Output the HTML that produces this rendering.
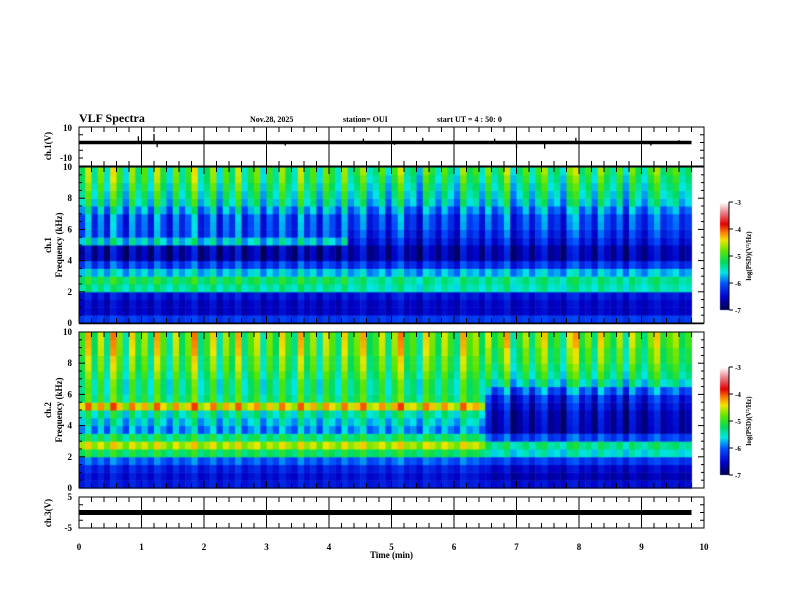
<!DOCTYPE html>
<html><head><meta charset="utf-8"><style>
body{margin:0;background:#fff;}
#wrap{position:relative;width:792px;height:612px;overflow:hidden;background:#fff;}
canvas,svg{position:absolute;left:0;top:0;}
text{font-family:"Liberation Serif",serif;font-weight:bold;fill:#000;}
</style></head><body>
<div id="wrap">
<canvas id="cv" width="792" height="612"></canvas>
<svg id="sv" width="792" height="612"></svg>
</div>
<script>
// ---- data ----
const timeEnd = 9.8; // minutes of data
// burst intensity per 0.1-min column (98 columns)
const bursts = [0.6,1.2,0.4,1.0,0.3,1.3,0.8,0.2,1.1,0.5,0.9,0.3,1.2,0.7,0.2,1.0,0.4,0.8,1.3,0.3,
0.6,1.1,0.2,0.9,0.5,1.2,0.3,0.7,1.0,0.2,0.8,0.4,1.1,0.6,0.3,1.2,0.5,0.9,0.2,1.0,
0.7,0.3,1.1,0.5,0.8,1.2,0.4,0.6,1.0,0.3,0.9,1.3,0.5,0.7,0.2,1.1,0.8,0.4,1.0,0.6,
0.3,1.2,0.7,0.9,0.4,1.1,0.5,0.8,1.3,0.3,0.6,1.0,0.4,0.9,1.2,0.5,0.7,0.3,1.1,1.3,
0.6,0.9,0.4,1.2,0.8,0.5,1.0,0.3,1.1,0.7,0.4,0.9,1.2,0.6,0.8,1.0,0.5,0.7];
// base log PSD per 0.5 kHz row (0-0.5 ... 9.5-10 kHz)
const ch1Before = [-6.2,-6.6,-6.6,-6.5,-5.5,-5.3,-5.8,-6.3,-6.8,-6.8,-5.8,-6.3,-6.3,-6.3,-6.0,-5.7,-5.6,-5.5,-5.4,-5.4];
const ch1After  = [-6.2,-6.6,-6.6,-6.5,-5.6,-5.5,-5.9,-6.4,-6.8,-6.8,-6.6,-6.5,-6.4,-6.4,-6.2,-5.9,-5.8,-5.7,-5.6,-5.5];
const ch1Change = 4.3;
const ch2Before = [-6.4,-6.5,-6.4,-6.1,-5.3,-4.7,-5.4,-6.0,-5.8,-5.6,-4.6,-5.4,-5.5,-5.5,-5.4,-5.3,-5.3,-5.2,-5.2,-5.2];
const ch2After  = [-6.5,-6.7,-6.6,-6.3,-5.7,-5.5,-6.3,-6.8,-6.8,-6.8,-6.7,-6.6,-6.3,-5.8,-5.6,-5.5,-5.4,-5.4,-5.3,-5.3];
const ch2Change = 6.45;
// ch1 waveform spikes [minute, volts]
const spikes1 = [[0.95,4],[1.2,5.5],[1.25,-3],[3.3,-2],[4.55,2.5],[5.05,-1.5],[5.5,3],[6.65,2.5],[7.0,-4],[7.45,-4],[7.95,3],[9.15,-2],[9.6,1.5]];
const ch3Value = 0;
const cbTicks = [-3,-4,-5,-6,-7];

// ---- geometry ----
const X0=79, X1=704;
const xs = t => X0 + t*(X1-X0)/10;
const P1={top:167,bot:323}, P2={top:332,bot:488};
const W1={top:127,bot:158}, W3={top:497,bot:528};

function jet(v){ // v in [-7,-3]
  const s=Math.max(0,Math.min(1,(v+7)/4));
  const stops=[[0,[0,0,70]],[0.12,[0,0,200]],[0.25,[0,80,255]],[0.35,[0,230,230]],[0.45,[0,220,90]],[0.55,[90,230,0]],[0.65,[240,230,0]],[0.72,[255,130,0]],[0.8,[230,0,0]],[0.9,[230,120,130]],[1,[255,255,255]]];
  for(let i=1;i<stops.length;i++){ if(s<=stops[i][0]){const a=stops[i-1],b=stops[i];const f=(s-a[0])/(b[0]-a[0]);
    return `rgb(${a[1].map((c,k)=>Math.round(c+(b[1][k]-c)*f)).join(',')})`;}}
  return 'rgb(255,255,255)';
}
const cv=document.getElementById('cv'),ctx=cv.getContext('2d');
function drawSpec(P,before,after,change,gain){
  const rows=before.length, rh=(P.bot-P.top)/rows;
  bursts.forEach((b,i)=>{
    const t=i*0.1, x=xs(t), w=xs(t+0.1)-x+0.5;
    const prof = t<change?before:after;
    for(let r=0;r<rows;r++){
      const wgt = 0.15 + 0.85*(r/rows);
      const v = prof[r] + (b-0.4)*gain*wgt;
      ctx.fillStyle=jet(v);
      ctx.fillRect(x, P.bot-(r+1)*rh, w, rh+0.5);
    }
  });
}
drawSpec(P1,ch1Before,ch1After,ch1Change,1.2);
drawSpec(P2,ch2Before,ch2After,ch2Change,1.3);
// colorbars
[[202,310],[367,475]].forEach(([a,b])=>{
  for(let y=a;y<b;y++){ctx.fillStyle=jet(-3-4*(y-a)/(b-a));ctx.fillRect(720,y,9,1);}
});

// ---- SVG axes ----
const sv=document.getElementById('sv'), NS='http://www.w3.org/2000/svg';
function el(tag,attrs,txt){const e=document.createElementNS(NS,tag);for(const k in attrs)e.setAttribute(k,attrs[k]);if(txt!==undefined)e.textContent=txt;sv.appendChild(e);return e;}
function line(x1,y1,x2,y2,w){return el('line',{x1,y1,x2,y2,stroke:'#000','stroke-width':w||1});}
function txt(x,y,s,size,anchor,rot,name){const a={x,y,'font-size':size,'text-anchor':anchor||'start'};if(rot)a.transform=`rotate(-90 ${x} ${y})`;const e=el('text',a,s);return e;}

[[127,166],[167,323],[332,488],[497,528]].forEach(([a,b],i)=>{
  const r=el('rect',{x:X0,y:a,width:X1-X0,height:b-a,fill:'none',stroke:'#000','stroke-width':1});
  
});
line(X0,166.5,X1,166.5,1.5);line(X0,323.5,X1,323.5,1.5);
for(let m=1;m<10;m++){line(xs(m),127,xs(m),166,1);line(xs(m),497,xs(m),528,1);}
[[127,1],[166,-1],[167,1],[323,-1],[332,1],[488,-1],[497,1],[528,-1]].forEach(([y,d])=>{
  for(let k=0;k<=50;k++){const len=(k%5===0)?7:5;line(xs(k/5),y,xs(k/5),y+d*len,1);}
});
[P1,P2].forEach(P=>{for(let f=0;f<=10;f+=0.5){const y=P.bot-(P.bot-P.top)*f/10;const len=(f%2===0)?6:3;line(X0,y,X0+len,y);line(X1,y,X1-len,y);}});
[[W1.top,W1.bot],[W3.top,W3.bot]].forEach(([a,b])=>{for(let k=0;k<=4;k++){const y=a+(b-a)*k/4;line(X0,y,X0+4,y);line(X1,y,X1-4,y);}});
[[202,310],[367,475]].forEach(([a,b],j)=>{
  line(729,a,729,b);
  cbTicks.forEach((v,i)=>{const y=a+(b-a)*i/4;line(729,y,733,y);txt(735,y+3,String(v),7,'start',false,'colorbar-tick-'+j+'-'+i);});
  txt(751,(a+b)/2,'log(PSD)(V\u00b2/Hz)',7,'middle',true,'colorbar-title-'+(j+1));
});

const yW1=v=>W1.top+(10-v)/20*(W1.bot-W1.top);
let pts=[];const N=400;
for(let i=0;i<=N;i++){const t=timeEnd*i/N;pts.push(`${xs(t).toFixed(1)},${yW1(0).toFixed(1)}`);}
const wl=el('polyline',{points:pts.join(' '),fill:'none',stroke:'#000','stroke-width':3.5});

spikes1.forEach(([t,v],i)=>{const s=line(xs(t),yW1(0),xs(t),yW1(v),1.3);});
const yW3=v=>W3.top+(5-v)/10*(W3.bot-W3.top);
const c3=el('line',{x1:xs(0),y1:yW3(ch3Value),x2:xs(timeEnd),y2:yW3(ch3Value),stroke:'#000','stroke-width':5});


txt(79,122,'VLF Spectra',12,'start',false,'chart-title');
txt(250,122,'Nov.28, 2025',8,'start',false,'date-label');
txt(343,122,'station= OUI',8,'start',false,'station-label');
txt(437,122,'start  UT =   4 : 50: 0',8,'start',false,'start-time-label');
txt(72,131,'10',9,'end',false,'ch1-y-tick-10');
txt(72,161,'-10',9,'end',false,'ch1-y-tick-minus10');
txt(51,146,'ch.1(V)',9,'middle',true,'ch1-y-title');
[P1,P2].forEach((P,j)=>{for(let f=0;f<=10;f+=2){const y=P.bot-(P.bot-P.top)*f/10;txt(72,y+3,String(f),9,'end',false,'ch'+(j+1)+'-freq-tick-'+f);}
  txt(51,(P.top+P.bot)/2,'ch.'+(j+1),9,'middle',true,'ch'+(j+1)+'-label');
  txt(62,(P.top+P.bot)/2,'Frequency  (kHz)',9,'middle',true,'ch'+(j+1)+'-freq-title');});
txt(72,500,'5',9,'end',false,'ch3-y-tick-5');
txt(72,531,'-5',9,'end',false,'ch3-y-tick-minus5');
txt(51,513,'ch.3(V)',9,'middle',true,'ch3-y-title');
for(let m=0;m<=10;m++)txt(xs(m),550,String(m),9,'middle',false,'x-tick-'+m);
txt(xs(5),558,'Time  (min)',9,'middle',false,'x-axis-title');
</script>
</body></html>
